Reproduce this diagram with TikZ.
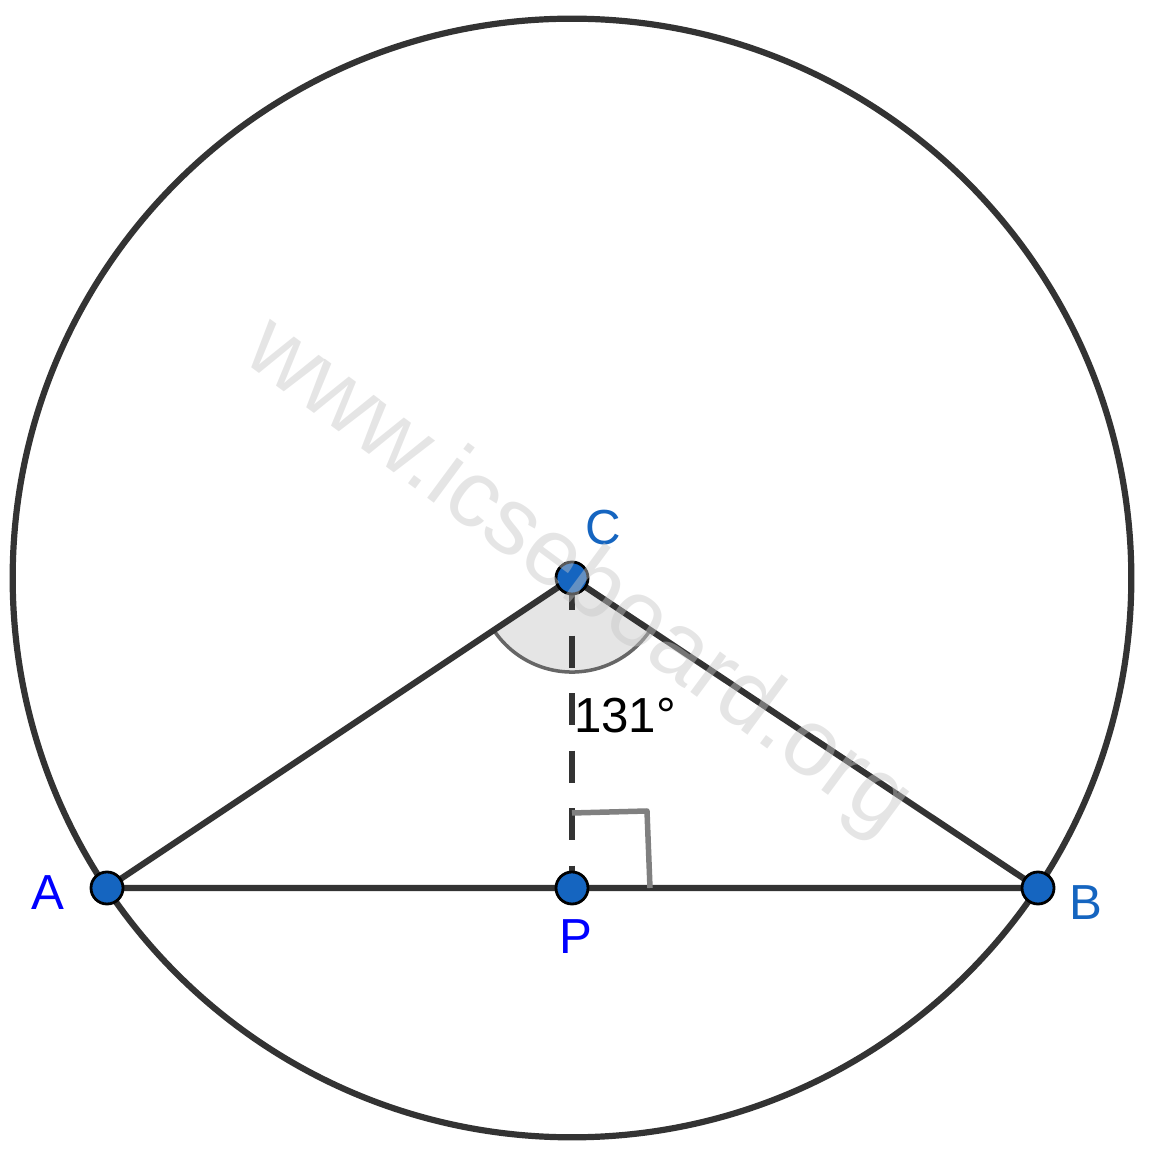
\documentclass[tikz,border=0pt]{standalone}
\usepackage{fontspec}
\setsansfont{Liberation Sans}
\usetikzlibrary{calc,math,angles}
\definecolor{linegray}{HTML}{333333}
\definecolor{dotblue}{HTML}{1565C0}
\definecolor{markgray}{HTML}{808080}
\definecolor{arcgray}{HTML}{666666}
\definecolor{sectorgray}{HTML}{E5E5E5}
\definecolor{wmgray}{HTML}{C6C6C6}
\tikzset{every picture/.style={/utils/exec={\sffamily}}}
\tikzset{point/.style={fill=dotblue,draw=black,line width=0.028cm,circle,inner sep=0pt,minimum size=0.32cm}}
\tikzset{edge/.style={draw=linegray,line width=0.062cm}}
\tikzset{lbl/.style={inner sep=0pt,font=\fontsize{14}{16}\selectfont}}

\begin{document}
\begin{tikzpicture}[x=0.01cm,y=0.01cm]
    \tikzmath{\r=5.59;\ar=0.94;}
    \useasboundingbox (0,0) rectangle (1152,1154);
    \coordinate (C) at (572,576);
    \coordinate (A) at (107,266);
    \coordinate (B) at (1038,266);
    \coordinate (P) at (572,266);
    \draw [edge] (C) circle [radius=\r cm];
    \pic [draw=arcgray, fill=sectorgray, line width=0.035cm, angle radius=\ar cm] {angle=A--C--B};
    \draw [edge] (A) -- (C) -- (B) (A) -- (B);
    \draw [edge, dash pattern=on 0.32cm off 0.255cm] (C) -- (P);
    \draw [draw=markgray, line width=0.055cm, line join=round] ($(P)+(0,75)$) -- ++(75,2) coordinate (Q) -- ($(P)+(78,0)$);
    \node [point] (dotA) at (A) {};
    \node [point] (dotB) at (B) {};
    \node [point] (dotC) at (C) {};
    \node [point] (dotP) at (P) {};
    \node [lbl, blue] (labA) at (48,261) {A};
    \node [lbl, dotblue] (labB) at (1086,251) {B};
    \node [lbl, dotblue] (labC) at (603,626) {C};
    \node [lbl, blue] (labP) at (576,217) {P};
    \node [lbl] (angleC) at (625,438) {131°};
    \node [inner sep=0pt, rotate=-36.5, text=wmgray, text opacity=0.45, font=\fontsize{27}{30}\selectfont] (wmark) at (577,576) {www.icseboard.org};
\end{tikzpicture}
\end{document}
